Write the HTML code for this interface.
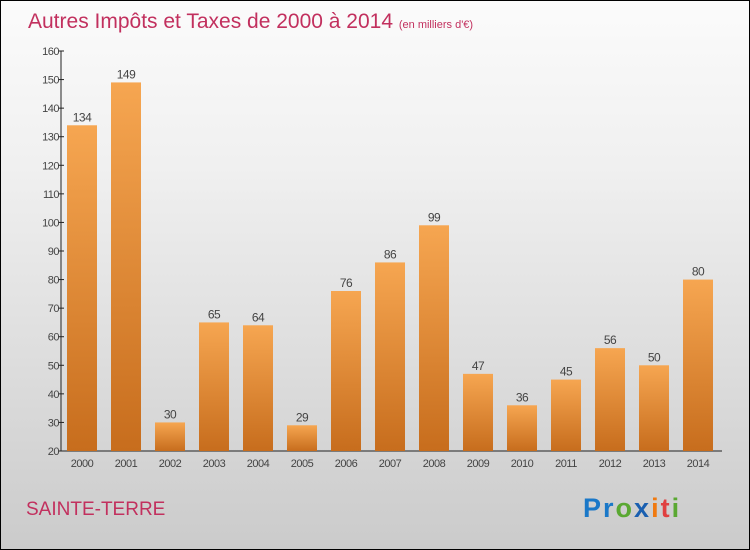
<!DOCTYPE html>
<html><head><meta charset="utf-8"><style>
body{margin:0}
#c{position:relative;width:748px;height:548px;border:1px solid #000;background:linear-gradient(#fbfbfb,#f0f0f0 30%,#cbcbcb);font-family:"Liberation Sans",sans-serif;overflow:hidden}
</style></head><body>
<div id="c">
<svg width="748" height="548" id="svg" style="position:absolute;left:0;top:0">
<defs><linearGradient id="g" x1="0" y1="0" x2="0" y2="1"><stop offset="0" stop-color="#f6a651"/><stop offset="1" stop-color="#c76d1d"/></linearGradient></defs>
<text x="27" y="27" font-size="21" fill="#c2305e">Autres Impôts et Taxes de 2000 à 2014 <tspan font-size="11">(en milliers d'€)</tspan></text>
<text x="25" y="514" font-size="19" fill="#c2305e">SAINTE-TERRE</text>
<text x="582" y="516" font-size="27" font-weight="bold" letter-spacing="2"><tspan fill="#1a78c8">Pr</tspan><tspan fill="#5aa832">o</tspan><tspan fill="#1a5fb0">x</tspan><tspan fill="#f07a10">i</tspan><tspan fill="#e04040">t</tspan><tspan fill="#5aa832">i</tspan></text>
<g id="plot"></g>
</svg>
</div>
<script>
const categories=["2000","2001","2002","2003","2004","2005","2006","2007","2008","2009","2010","2011","2012","2013","2014"];
const values=[134,149,30,65,64,29,76,86,99,47,36,45,56,50,80];
const yTicks=[20,30,40,50,60,70,80,90,100,110,120,130,140,150,160];
const yMin=20,yMax=160,top0=50,bot=450,axX=60;
const y=v=>bot-(v-yMin)/(yMax-yMin)*(bot-top0);
const x=i=>81+i*44;
const ns="http://www.w3.org/2000/svg",g=document.getElementById('plot');
function mk(t,a,txt){const e=document.createElementNS(ns,t);for(const k in a)e.setAttribute(k,a[k]);if(txt!=null)e.textContent=txt;g.appendChild(e);return e;}
let e;
e=mk('line',{x1:axX,y1:top0,x2:axX,y2:bot,stroke:'#222'});


e=mk('line',{x1:axX,y1:bot,x2:721,y2:bot,stroke:'#222'});


yTicks.forEach(t=>{
 e=mk('line',{x1:axX-3,y1:y(t),x2:axX+3,y2:y(t),stroke:'#222'});
 
 
 e=mk('text',{x:axX-2,y:y(t)+4,'font-size':11,fill:'#444','text-anchor':'end','letter-spacing':'-0.5'},t);
 
 
});
values.forEach((v,i)=>{
 e=mk('rect',{x:x(i)-15,y:y(v),width:30,height:bot-y(v),fill:'url(#g)'});
 
 
 e=mk('text',{x:x(i),y:y(v)-4,'font-size':12,fill:'#444','text-anchor':'middle','letter-spacing':'-0.5'},v);
 
 
 e=mk('text',{x:x(i),y:bot+16,'font-size':11,fill:'#444','text-anchor':'middle','letter-spacing':'-0.5'},categories[i]);
 
 
});
</script>
</body></html>
